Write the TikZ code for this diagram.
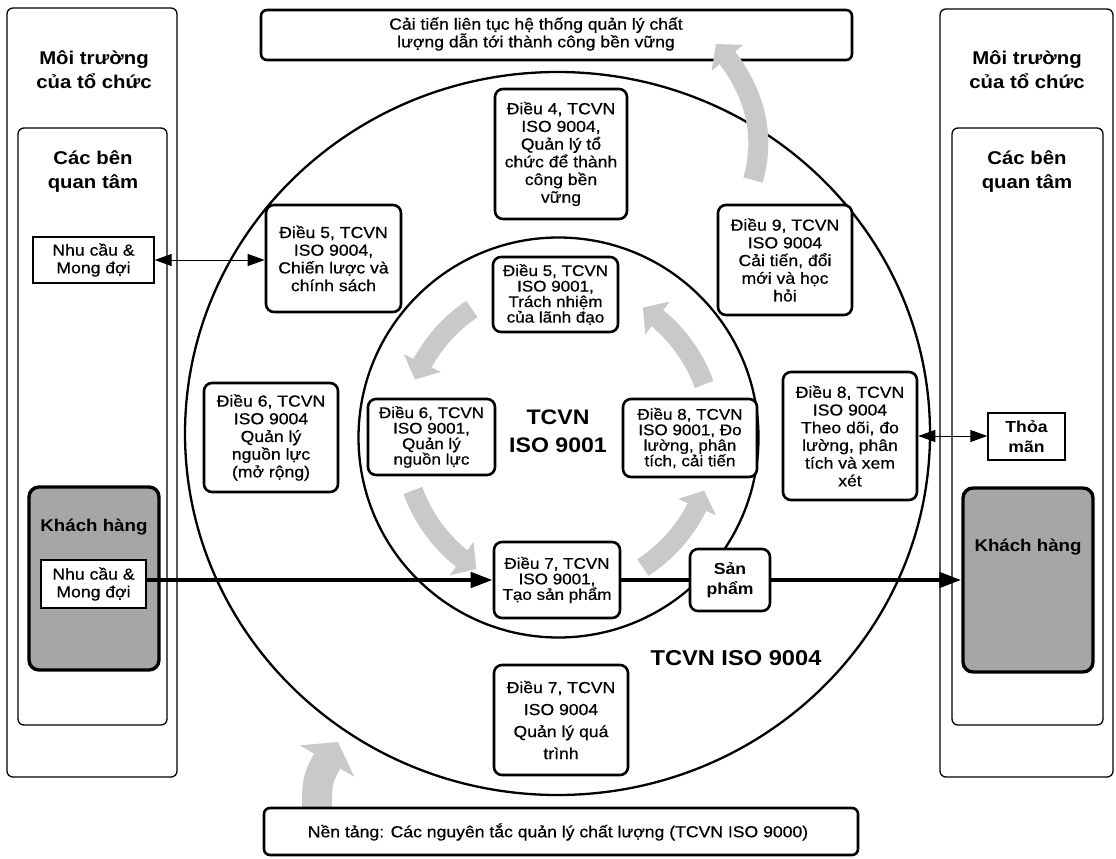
\documentclass[tikz,border=0pt]{standalone}
\usepackage{fontspec}
\setmainfont{Liberation Sans}[FakeStretch=1.1, UprightFeatures={FakeBold=0.6}]
\usetikzlibrary{arrows.meta,bending}
\begin{document}
\begin{tikzpicture}[x=1pt,y=-1pt,
  box/.style={draw, line width=2.6pt, rounded corners=8pt, fill=white, align=center, inner sep=0pt, font=\fontsize{16}{17.7}\selectfont},
  ibox/.style={box, font=\fontsize{15.5}{15.5}\selectfont},
  panel/.style={draw, line width=1.3pt, rounded corners=6pt, inner sep=0pt},
  sqbox/.style={draw, line width=1.4pt, fill=white, align=center, inner sep=0pt, font=\fontsize{16}{17.7}\selectfont},
  khbox/.style={draw, line width=3.4pt, rounded corners=10pt, fill=gray!70, inner sep=0pt},
  ring/.style={draw, line width=2.3pt},
  garrow/.style={draw=gray!42, line width=20pt, -{Triangle[length=18pt,width=40pt]}},
  thinarrow/.style={line width=1pt, {Triangle[length=17pt,width=12pt]}-{Triangle[length=17pt,width=12pt]}},
  mainline/.style={line width=4.5pt},
  mainarrow/.style={mainline, -{Triangle[length=22pt,width=15pt]}},
  head/.style={font=\bfseries\fontsize{18.5}{24}\selectfont, align=center},
  plain/.style={font=\fontsize{16}{17.7}\selectfont, align=center},
]
\useasboundingbox (0,0) rectangle (1116,859);

% side panels
\node[panel, minimum width=170pt, minimum height=769pt] (outL) at (92,392.5) {};
\node[panel, minimum width=149pt, minimum height=597pt] (inL) at (92.5,426.5) {};
\node[panel, minimum width=173pt, minimum height=768pt] (outR) at (1026.5,393) {};
\node[panel, minimum width=151pt, minimum height=597pt] (inR) at (1027.5,426.5) {};
\node[head] (envL) at (94,70) {Môi trường\\của tổ chức};
\node[head] (envR) at (1027,70) {Môi trường\\của tổ chức};
\node[head] (stkL) at (93,172) {Các bên\\quan tâm};
\node[head] (stkR) at (1027,172) {Các bên\\quan tâm};

% customers
\node[khbox, minimum width=130pt, minimum height=183pt] (KH1) at (94,578.5) {};
\node[khbox, minimum width=130pt, minimum height=184pt] (KH2) at (1028,580) {};
\node[font=\bfseries\fontsize{17}{20}\selectfont] (kh1t) at (94,527) {Khách hàng};
\node[font=\bfseries\fontsize{17}{20}\selectfont] (kh2t) at (1028,547) {Khách hàng};
\node[sqbox, minimum width=121pt, minimum height=46pt] (NC1) at (93.5,260) {Nhu cầu \&\\Mong đợi};
\node[sqbox, minimum width=105pt, minimum height=48pt] (NC2) at (93.5,584) {Nhu cầu \&\\Mong đợi};
\node[sqbox, font=\bfseries\fontsize{16}{20}\selectfont, minimum width=77pt, minimum height=47pt] (TM) at (1026.5,436.5) {Thỏa\\mãn};

% circles
\coordinate (C) at (558.5,437.5);
\draw[ring] (557.5,433.5) ellipse [x radius=372.5pt, y radius=361.5pt];
\draw[ring] (C) circle [radius=200pt];

% top box
\node[box, rounded corners=6pt, minimum width=591pt, minimum height=50pt] (top) at (556.5,35) {};
\node[plain] (topt) at (536,34) {Cải tiến liên tục hệ thống quản lý chất\\lượng dẫn tới thành công bền vững};

% ISO 9004 boxes
\node[box, minimum width=132pt, minimum height=130pt] (D4) at (561,154) {Điều 4, TCVN\\ISO 9004,\\Quản lý tổ\\chức để thành\\công bền\\vững};
\node[box, minimum width=135pt, minimum height=107pt] (D5b) at (333.5,258.5) {Điều 5, TCVN\\ISO 9004,\\Chiến lược và\\chính sách};
\node[box, minimum width=134pt, minimum height=110pt] (D9) at (785,260) {Điều 9, TCVN\\ISO 9004\\Cải tiến, đổi\\mới và học\\hỏi};
\node[box, minimum width=134pt, minimum height=109pt] (D6b) at (271,437.5) {Điều 6, TCVN\\ISO 9004\\Quản lý\\nguồn lực\\(mở rộng)};
\node[box, minimum width=134pt, minimum height=128pt] (D8b) at (850,436) {Điều 8, TCVN\\ISO 9004\\Theo dõi, đo\\lường, phân\\tích và xem\\xét};
\node[box, font=\fontsize{16}{22}\selectfont, minimum width=134pt, minimum height=110pt] (D7b) at (561,720) {Điều 7, TCVN\\ISO 9004\\Quản lý quá\\trình};

% connectors
\draw[thinarrow] (NC1.east) -- (NC1.east -| D5b.west);
\draw[thinarrow] (D8b.east) -- (D8b.east -| TM.west);

% ISO 9001 boxes
\node[ibox, minimum width=125pt, minimum height=75pt] (D5a) at (555.5,294.5) {Điều 5, TCVN\\ISO 9001,\\Trách nhiệm\\của lãnh đạo};
\node[ibox, minimum width=127pt, minimum height=76pt] (D6a) at (431.5,437) {Điều 6, TCVN\\ISO 9001,\\Quản lý\\nguồn lực};
\node[ibox, minimum width=134pt, minimum height=78pt] (D8a) at (690,438) {Điều 8, TCVN\\ISO 9001, Đo\\lường, phân\\tích, cải tiến};
\node[ibox, minimum width=126pt, minimum height=76pt] (D7a) at (557,580) {Điều 7, TCVN\\ISO 9001,\\Tạo sản phẩm};
\node[box, font=\bfseries\fontsize{16}{20}\selectfont, minimum width=80pt, minimum height=62pt] (SP) at (730,580) {Sản\\phẩm};

\draw[mainarrow] (NC2.east |- D7a.west) -- (D7a.west);
\draw[mainline] (D7a.east) -- (SP.west);
\draw[mainarrow] (SP.east) -- (SP.east -| KH2.west);

% gray cycle arrows
\draw[garrow] (C) ++(124:155pt) arc[start angle=124, end angle=158, radius=155pt];
\draw[garrow] (C) ++(200:155pt) arc[start angle=200, end angle=238, radius=155pt];
\draw[garrow] (C) ++(303:155pt) arc[start angle=303, end angle=340, radius=155pt];
\draw[garrow] (C) ++(20:155pt) arc[start angle=20, end angle=57, radius=155pt];
\draw[garrow] (753,180) .. controls (768,128) and (750,82) .. (716,44);

% bottom box and arrow
\draw[garrow, line width=30pt, -{Triangle[length=22pt,width=62pt]}] (317,808) .. controls (317,778) .. (338,742);
\node[box, rounded corners=6pt, minimum width=594pt, minimum height=47pt] (bot) at (561,831.5) {};
\node[plain] (bott) at (558,832) {Nền tảng: Các nguyên tắc quản lý chất lượng (TCVN ISO 9000)};

% labels
\node[font=\bfseries\fontsize{21}{28}\selectfont, align=center] (t9001) at (558,431) {TCVN\\ISO 9001};
\node[font=\bfseries\fontsize{21.5}{28}\selectfont] (t9004) at (736,658) {TCVN ISO 9004};
\end{tikzpicture}
\end{document}
